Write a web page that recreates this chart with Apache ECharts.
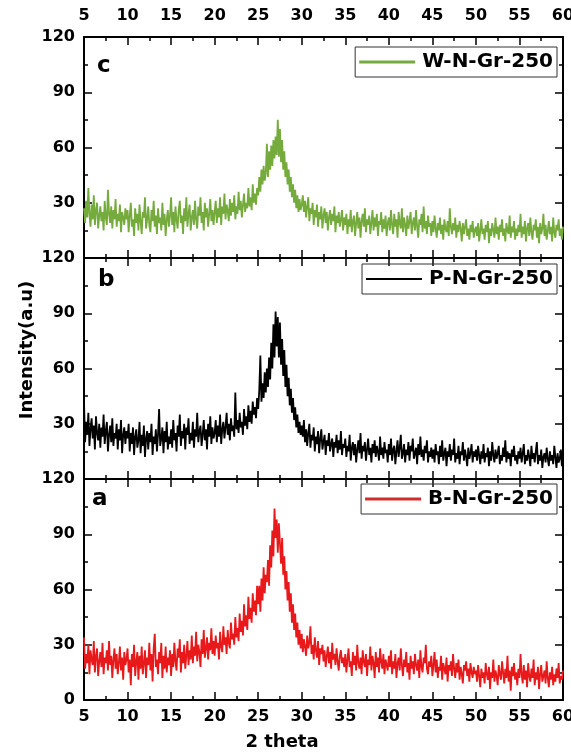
<!DOCTYPE html>
<html>
<head>
<meta charset="utf-8">
<script src="https://cdn.jsdelivr.net/npm/echarts@6/dist/echarts.min.js"></script>
<style>
	html, body { margin: 0; padding: 0; background: #fff; }
	#main { width: 571px; height: 755px; }
</style>
</head>
<body>
<div id="main"></div>
<script>
// 2 theta sampling: 5 .. 60 in 0.125 steps
const thetaStart = 5;
const thetaStep = 0.125;

const xTicks = [5, 10, 15, 20, 25, 30, 35, 40, 45, 50, 55, 60];
const yTicks = [0, 30, 60, 90, 120];

const seriesNames = ['W-N-Gr-250', 'P-N-Gr-250', 'B-N-Gr-250'];
const panelLetters = ['c', 'b', 'a'];

// c : W-N-Gr-250 (one row = 5 degrees)
const wIntensity = [
	27, 19, 31, 22, 38, 24, 17, 29, 21, 34, 18, 26, 30, 16, 23, 28, 20, 25, 15, 31, 22, 18, 37, 24, 19, 28, 16, 26, 21, 32, 17, 24, 20, 29, 14, 25, 22, 18, 27, 21,
	26, 14, 23, 30, 17, 21, 12, 27, 19, 24, 15, 29, 20, 13, 25, 22, 33, 16, 21, 28, 18, 14, 26, 20, 31, 17, 23, 13, 27, 19, 22, 15, 30, 18, 24, 12, 21, 26, 17, 23,
	33, 18, 25, 14, 28, 21, 16, 26, 31, 19, 23, 13, 27, 20, 33, 17, 24, 29, 15, 22, 26, 18, 31, 21, 16, 28, 23, 33, 19, 25, 15, 30, 22, 27, 17, 24, 32, 20, 26, 18,
	25, 31, 19, 27, 22, 33, 18, 28, 24, 35, 21, 29, 26, 20, 32, 23, 30, 25, 34, 21, 28, 24, 36, 26, 31, 22, 29, 35, 25, 30, 27, 38, 28, 33, 26, 40, 30, 35, 29, 38,
	34, 44, 36, 48, 40, 50, 42, 46, 62, 44, 58, 48, 61, 50, 64, 54, 66, 56, 75, 55, 70, 52, 64, 48, 58, 44, 52, 40, 48, 36, 44, 33, 40, 30, 37, 27, 34, 25, 32, 26,
	29, 34, 25, 31, 22, 28, 33, 20, 27, 24, 30, 18, 26, 22, 29, 17, 25, 21, 28, 16, 23, 27, 19, 25, 15, 22, 26, 18, 24, 20, 28, 14, 23, 19, 25, 17, 21, 26, 15, 22,
	18, 24, 13, 21, 17, 26, 14, 20, 23, 12, 19, 25, 16, 22, 11, 20, 24, 17, 27, 14, 21, 18, 23, 13, 19, 26, 15, 22, 17, 24, 12, 20, 18, 25, 14, 21, 16, 23, 12, 19,
	22, 15, 26, 18, 13, 24, 17, 21, 11, 25, 19, 16, 27, 14, 22, 18, 12, 23, 16, 20, 25, 13, 19, 22, 15, 26, 17, 11, 21, 18, 24, 14, 28, 16, 20, 13, 23, 17, 19, 12,
	20, 14, 23, 16, 11, 19, 15, 22, 13, 18, 10, 21, 16, 14, 20, 12, 27, 17, 13, 19, 15, 22, 11, 18, 14, 20, 16, 9, 19, 13, 17, 21, 12, 16, 10, 18, 14, 20, 11, 15,
	17, 12, 19, 9, 15, 21, 13, 16, 10, 18, 14, 20, 8, 16, 12, 19, 15, 11, 22, 13, 17, 10, 18, 14, 21, 12, 16, 9, 19, 15, 13, 23, 11, 17, 14, 20, 10, 16, 12, 18,
	14, 24, 11, 17, 13, 20, 9, 16, 19, 12, 22, 14, 10, 18, 15, 21, 11, 17, 8, 19, 13, 16, 24, 12, 18, 10, 15, 20, 13, 17, 9, 22, 14, 11, 18, 15, 21, 12, 16, 10, 17
];

// b : P-N-Gr-250
const pIntensity = [
	42, 20, 31, 24, 36, 18, 27, 33, 22, 29, 16, 34, 25, 21, 30, 17, 28, 23, 35, 19, 26, 31, 15, 24, 29, 20, 33, 18, 25, 22, 30, 16, 27, 21, 32, 14, 24, 28, 19, 26,
	22, 30, 15, 25, 19, 28, 13, 23, 27, 17, 21, 31, 14, 24, 18, 29, 12, 22, 26, 16, 25, 20, 30, 13, 23, 19, 27, 15, 24, 38, 18, 22, 28, 14, 26, 20, 31, 16, 23, 19,
	27, 17, 32, 21, 25, 15, 29, 23, 35, 18, 26, 22, 30, 16, 28, 24, 33, 19, 25, 21, 31, 17, 27, 23, 36, 20, 26, 29, 18, 24, 32, 21, 27, 16, 30, 23, 34, 19, 28, 22,
	25, 32, 20, 29, 23, 35, 19, 27, 31, 22, 28, 36, 24, 30, 21, 33, 26, 29, 23, 47, 27, 32, 25, 36, 28, 31, 24, 38, 29, 34, 27, 40, 31, 37, 30, 42, 35, 39, 33, 44,
	38, 48, 67, 42, 52, 44, 58, 47, 60, 50, 66, 54, 74, 60, 84, 66, 91, 72, 88, 66, 85, 62, 76, 56, 70, 50, 62, 45, 55, 40, 49, 36, 44, 32, 39, 28, 35, 25, 31, 24,
	29, 23, 32, 20, 27, 18, 25, 30, 17, 24, 21, 28, 15, 23, 19, 26, 14, 22, 27, 16, 20, 24, 13, 21, 18, 25, 15, 19, 22, 12, 20, 17, 24, 14, 21, 16, 26, 13, 19, 17,
	22, 12, 18, 15, 24, 10, 17, 20, 13, 19, 9, 16, 21, 14, 25, 11, 18, 15, 20, 10, 16, 22, 13, 17, 9, 19, 14, 21, 12, 18, 15, 10, 23, 13, 17, 11, 20, 14, 16, 9,
	19, 13, 22, 10, 16, 18, 8, 15, 21, 12, 17, 24, 11, 14, 19, 9, 16, 13, 20, 10, 18, 15, 22, 11, 14, 17, 8, 19, 13, 23, 12, 16, 10, 18, 14, 21, 9, 15, 12, 17,
	11, 16, 9, 19, 13, 15, 8, 18, 12, 21, 10, 14, 17, 7, 15, 12, 19, 10, 16, 13, 22, 9, 14, 11, 18, 8, 15, 13, 20, 10, 16, 12, 7, 17, 11, 14, 19, 9, 15, 12,
	16, 10, 18, 13, 8, 15, 11, 19, 9, 14, 12, 17, 7, 15, 10, 20, 13, 9, 16, 11, 14, 18, 8, 13, 10, 17, 12, 21, 9, 15, 11, 14, 7, 16, 12, 18, 10, 13, 8, 15,
	11, 17, 9, 14, 19, 8, 13, 10, 16, 12, 7, 18, 11, 14, 9, 15, 20, 8, 13, 10, 16, 6, 12, 14, 9, 17, 11, 7, 15, 10, 13, 8, 18, 12, 6, 14, 9, 11, 16, 7, 12
];

// a : B-N-Gr-250
const bIntensity = [
	34, 17, 25, 20, 30, 14, 27, 22, 19, 32, 15, 24, 28, 13, 21, 26, 18, 31, 14, 23, 20, 27, 16, 32, 19, 24, 12, 22, 28, 17, 25, 14, 20, 29, 16, 23, 11, 26, 19, 22,
	28, 15, 22, 8, 25, 18, 30, 13, 21, 26, 11, 24, 17, 29, 14, 20, 27, 12, 23, 19, 31, 16, 25, 10, 28, 36, 18, 22, 14, 26, 20, 31, 12, 24, 17, 29, 15, 23, 19, 27,
	13, 25, 18, 31, 21, 16, 28, 23, 33, 15, 26, 20, 30, 17, 24, 32, 19, 27, 22, 35, 20, 29, 24, 37, 21, 30, 26, 18, 33, 25, 38, 23, 28, 34, 22, 31, 27, 39, 25, 32,
	24, 35, 28, 31, 22, 37, 29, 26, 40, 30, 34, 25, 38, 31, 28, 42, 33, 36, 30, 45, 34, 39, 32, 47, 37, 43, 35, 52, 40, 46, 38, 56, 44, 50, 42, 58, 48, 54, 46, 62,
	52, 62, 48, 66, 54, 72, 58, 68, 64, 76, 62, 84, 72, 92, 78, 104, 88, 98, 80, 96, 97, 74, 88, 68, 78, 60, 70, 54, 64, 48, 58, 42, 52, 38, 47, 34, 42, 30, 38, 28,
	36, 26, 33, 29, 24, 35, 28, 31, 40, 25, 30, 22, 34, 27, 23, 32, 19, 28, 25, 30, 21, 27, 18, 24, 29, 20, 26, 17, 31, 22, 25, 19, 28, 21, 16, 24, 27, 20, 23, 18,
	25, 15, 22, 28, 18, 21, 13, 26, 19, 24, 16, 30, 20, 17, 23, 14, 27, 21, 18, 25, 13, 22, 19, 29, 16, 24, 20, 12, 26, 18, 23, 15, 28, 21, 17, 25, 14, 22, 19, 16,
	24, 18, 27, 14, 21, 17, 25, 12, 20, 23, 16, 28, 19, 13, 22, 18, 26, 15, 20, 11, 24, 17, 21, 14, 25, 19, 16, 22, 12, 27, 18, 15, 23, 20, 30, 17, 14, 21, 18, 24,
	13, 19, 26, 15, 22, 12, 18, 16, 24, 11, 20, 17, 14, 23, 10, 19, 16, 21, 13, 25, 17, 12, 20, 15, 22, 11, 18, 14, 9, 19, 16, 21, 13, 17, 10, 20, 15, 12, 18, 14,
	16, 10, 19, 13, 7, 17, 12, 15, 9, 20, 14, 11, 18, 6, 15, 12, 22, 10, 16, 13, 8, 19, 14, 11, 21, 15, 9, 17, 12, 24, 10, 16, 5, 18, 13, 20, 11, 15, 8, 17,
	12, 25, 14, 9, 19, 11, 16, 7, 20, 13, 10, 17, 12, 22, 8, 15, 11, 18, 6, 14, 19, 10, 13, 16, 9, 21, 12, 7, 15, 11, 18, 8, 14, 10, 17, 12, 20, 9, 13, 11, 16
];

const lineColors = ['#74ab3c', '#000000', '#e8191b'];
const legendColors = ['#74ab3c', '#000000', '#d42a2c'];

const panels = [wIntensity, pIntensity, bIntensity];

// panel geometry (px)
const plotLeft = 84;
const plotWidth = 479;
const panelTops = [37, 258, 479];
const panelHeight = 221;
const legendTops = [47, 264, 484];
const letterPos = [[97, 55], [98, 269], [92, 488]];

const FONT = 'DejaVu Sans, Liberation Sans, Arial, sans-serif';

const myChart = echarts.init(document.getElementById('main'));

const labelFont = {
	color: '#000',
	fontFamily: FONT,
	fontWeight: 'bold',
	fontSize: 16
};

const grid = [];
const xAxis = [];
const yAxis = [];
const series = [];
const legend = [];
const graphic = [];

panels.forEach((vals, i) => {
	grid.push({
		left: plotLeft,
		top: panelTops[i],
		width: plotWidth,
		height: panelHeight,
		outerBoundsMode: 'none',
		containLabel: false
	});

	const axisLine = { show: true, onZero: false, lineStyle: { color: '#000', width: 2 } };
	const axisTick = { show: true, inside: true, length: 8, lineStyle: { color: '#000', width: 1.5 } };
	const minorTick = { show: true, splitNumber: 2, length: 4, lineStyle: { color: '#000', width: 1.5 } };

	// bottom x
	xAxis.push({
		type: 'value',
		gridIndex: i,
		position: 'bottom',
		min: xTicks[0],
		max: xTicks[xTicks.length - 1],
		interval: 5,
		axisLine,
		axisTick,
		minorTick,
		splitLine: { show: false },
		axisLabel: Object.assign({ show: i === 2, margin: 9 }, labelFont)
	});
	// top x
	xAxis.push({
		type: 'value',
		gridIndex: i,
		position: 'top',
		min: xTicks[0],
		max: xTicks[xTicks.length - 1],
		interval: 5,
		axisLine,
		axisTick,
		minorTick,
		splitLine: { show: false },
		axisLabel: Object.assign({ show: i === 0, margin: 13 }, labelFont)
	});
	// left y
	yAxis.push({
		type: 'value',
		gridIndex: i,
		position: 'left',
		min: yTicks[0],
		max: yTicks[yTicks.length - 1],
		interval: 30,
		axisLine,
		axisTick,
		minorTick,
		splitLine: { show: false },
		axisLabel: Object.assign({
			margin: 9,
			formatter: v => (v === 0 && i !== 2 ? '' : String(v))
		}, labelFont)
	});
	// right y
	yAxis.push({
		type: 'value',
		gridIndex: i,
		position: 'right',
		min: yTicks[0],
		max: yTicks[yTicks.length - 1],
		interval: 30,
		axisLine,
		axisTick,
		minorTick,
		splitLine: { show: false },
		axisLabel: { show: false }
	});

	series.push({
		name: seriesNames[i],
		type: 'line',
		xAxisIndex: i * 2,
		yAxisIndex: i * 2,
		symbol: 'none',
		animation: false,
		lineStyle: { color: lineColors[i], width: 1.8 },
		itemStyle: { color: legendColors[i] },
		data: vals.map((v, k) => [thetaStart + k * thetaStep, v])
	});

	legend.push({
		data: [{ name: seriesNames[i], icon: 'rect' }],
		right: 14,
		top: legendTops[i],
		orient: 'horizontal',
		itemWidth: 56,
		itemHeight: i === 1 ? 2 : 3,
		itemGap: 4,
		padding: [5, 4, 5, 4],
		borderColor: '#333',
		borderWidth: 1,
		selectedMode: false,
		textStyle: {
			color: '#000',
			fontFamily: FONT,
			fontWeight: 'bold',
			fontSize: 20,
			padding: [0, 0, 0, 2]
		}
	});

	graphic.push({
		type: 'text',
		left: letterPos[i][0],
		top: letterPos[i][1],
		style: {
			text: panelLetters[i],
			fill: '#000',
			font: 'bold 23px ' + FONT
		}
	});
});

graphic.push({
	type: 'text',
	x: 27,
	y: 350,
	rotation: Math.PI / 2,
	style: {
		text: 'Intensity(a.u)',
		fill: '#000',
		textAlign: 'center',
		textVerticalAlign: 'middle',
		font: 'bold 18px ' + FONT
	}
});

graphic.push({
	type: 'text',
	x: 282,
	y: 742,
	style: {
		text: '2 theta',
		fill: '#000',
		textAlign: 'center',
		textVerticalAlign: 'middle',
		font: 'bold 18px ' + FONT
	}
});

const option = {
	backgroundColor: '#fff',
	animation: false,
	grid,
	xAxis,
	yAxis,
	legend,
	graphic,
	series
};

myChart.setOption(option);
</script>
</body>
</html>
